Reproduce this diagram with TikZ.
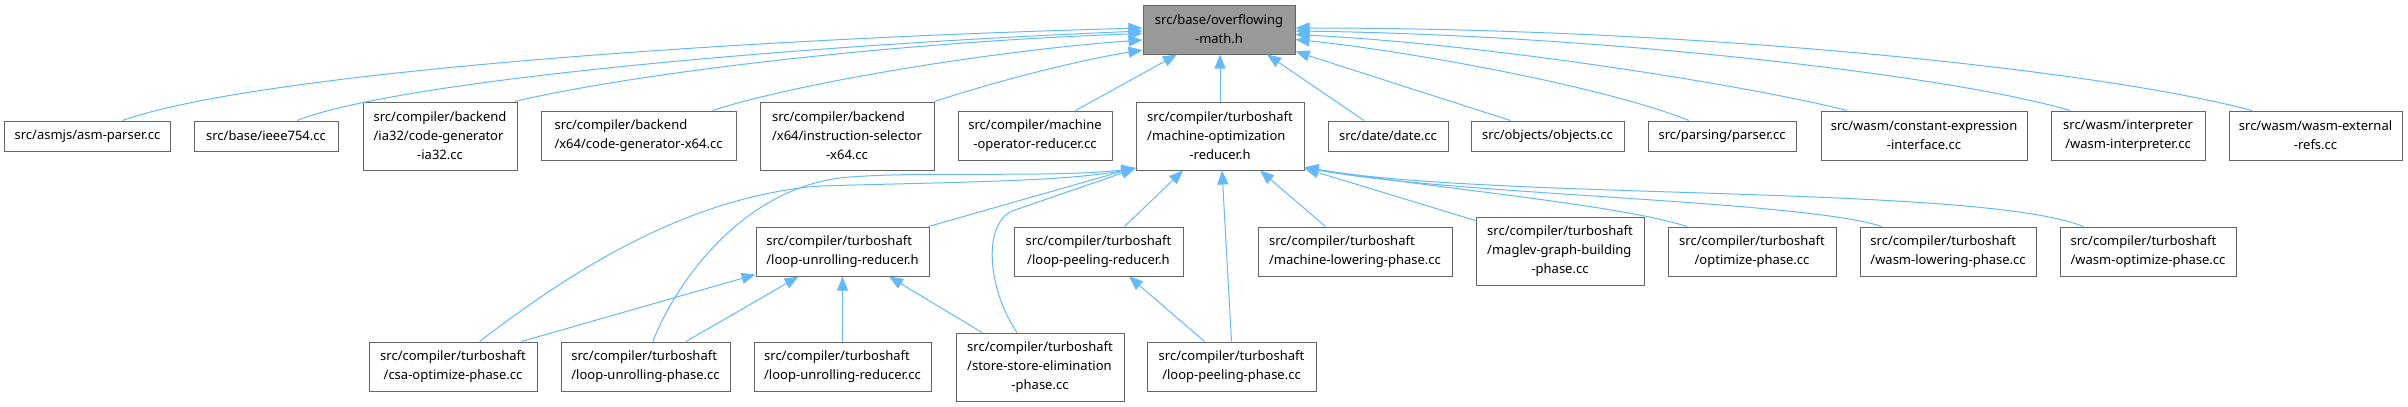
\documentclass[tikz,border=0pt]{standalone}
\usepackage{fontspec}
\setmainfont{Noto Sans}
\usetikzlibrary{arrows.meta,calc}
\definecolor{edgeblue}{HTML}{63B8FF}
\definecolor{boxgray}{HTML}{666666}
\definecolor{rootfill}{HTML}{999999}
\newcommand\lastln[1]{\hfill#1\hfill\hbox{}}
\begin{document}
\begin{tikzpicture}[x=1bp,y=-1bp,
  box/.style={draw=boxgray, line width=1bp, fill=white, inner sep=0pt, align=left,
    font=\fontsize{13bp}{19bp}\selectfont},
  rootbox/.style={box, fill=rootfill},
  dep/.style={draw=edgeblue, line width=1bp, -{Triangle[length=14bp,width=11bp]}},
]
\useasboundingbox (0,0) rectangle (2408,406);

% root
\node[rootbox, minimum width=152bp, minimum height=49bp] (OM) at (1219,29.5) {src/base/overflowing\\\lastln{-math.h}};

% row 2
\node[box, minimum width=165bp, minimum height=30bp] (asm) at (87.5,136) {src/asmjs/asm-parser.cc};
\node[box, minimum width=144bp, minimum height=30bp] (ieee) at (266,136) {src/base/ieee754.cc};
\node[box, minimum width=154bp, minimum height=68bp] (ia32) at (440,136) {src/compiler/backend\\/ia32/code-generator\\\lastln{-ia32.cc}};
\node[box, minimum width=195bp, minimum height=49bp] (x64cg) at (638.5,135.5) {src/compiler/backend\\\lastln{/x64/code-generator-x64.cc}};
\node[box, minimum width=174bp, minimum height=68bp] (isel) at (847,136) {src/compiler/backend\\/x64/instruction-selector\\\lastln{-x64.cc}};
\node[box, minimum width=154bp, minimum height=49bp] (mocc) at (1035,135.5) {src/compiler/machine\\\lastln{-operator-reducer.cc}};
\node[box, minimum width=168bp, minimum height=68bp] (MOR) at (1220,136) {src/compiler/turboshaft\\/machine-optimization\\\lastln{-reducer.h}};
\node[box, minimum width=120bp, minimum height=30bp] (date) at (1388,136) {src/date/date.cc};
\node[box, minimum width=153bp, minimum height=30bp] (objects) at (1547.5,136) {src/objects/objects.cc};
\node[box, minimum width=148bp, minimum height=30bp] (parser) at (1722,136) {src/parsing/parser.cc};
\node[box, minimum width=206bp, minimum height=49bp] (constexpr) at (1924,135.5) {src/wasm/constant-expression\\\lastln{-interface.cc}};
\node[box, minimum width=154bp, minimum height=49bp] (interp) at (2128,135.5) {src/wasm/interpreter\\\lastln{/wasm-interpreter.cc}};
\node[box, minimum width=173bp, minimum height=49bp] (extrefs) at (2315.5,135.5) {src/wasm/wasm-external\\\lastln{-refs.cc}};

% row 3
\node[box, minimum width=173bp, minimum height=49bp] (LUR) at (842.5,251.5) {src/compiler/turboshaft\\\lastln{/loop-unrolling-reducer.h}};
\node[box, minimum width=169bp, minimum height=49bp] (LPR) at (1098.5,251.5) {src/compiler/turboshaft\\\lastln{/loop-peeling-reducer.h}};
\node[box, minimum width=194bp, minimum height=49bp] (MLP) at (1355,251.5) {src/compiler/turboshaft\\\lastln{/machine-lowering-phase.cc}};
\node[box, minimum width=168bp, minimum height=68bp] (maglev) at (1560,251) {src/compiler/turboshaft\\/maglev-graph-building\\\lastln{-phase.cc}};
\node[box, minimum width=168bp, minimum height=49bp] (opt) at (1752,251.5) {src/compiler/turboshaft\\\lastln{/optimize-phase.cc}};
\node[box, minimum width=176bp, minimum height=49bp] (wlow) at (1948,251.5) {src/compiler/turboshaft\\\lastln{/wasm-lowering-phase.cc}};
\node[box, minimum width=176bp, minimum height=49bp] (wopt) at (2148,251.5) {src/compiler/turboshaft\\\lastln{/wasm-optimize-phase.cc}};

% row 4
\node[box, minimum width=168bp, minimum height=49bp] (csa) at (453,366.5) {src/compiler/turboshaft\\\lastln{/csa-optimize-phase.cc}};
\node[box, minimum width=169bp, minimum height=49bp] (lup) at (645.5,366.5) {src/compiler/turboshaft\\\lastln{/loop-unrolling-phase.cc}};
\node[box, minimum width=177bp, minimum height=49bp] (lurcc) at (842.5,366.5) {src/compiler/turboshaft\\\lastln{/loop-unrolling-reducer.cc}};
\node[box, minimum width=168bp, minimum height=68bp] (sse) at (1040,367) {src/compiler/turboshaft\\/store-store-elimination\\\lastln{-phase.cc}};
\node[box, minimum width=169bp, minimum height=49bp] (lpp) at (1231.5,366.5) {src/compiler/turboshaft\\\lastln{/loop-peeling-phase.cc}};

% edges into root
\draw[dep] ($(asm.north)+(35,0)$) .. controls (250,75) and (700,40) .. ($(OM.west)+(0,-1.5)$);
\draw[dep] ($(ieee.north)+(31,0)$) .. controls (400,80) and (800,45) .. ($(OM.west)+(0,1.5)$);
\draw[dep] ($(ia32.north east)+(-3,0)$) .. controls (640,72) and (900,42) .. ($(OM.west)+(0,4)$);
\draw[dep] ($(x64cg.north)+(74,0)$) .. controls (800,82) and (1000,50) .. ($(OM.west)+(0,10.5)$);
\draw[dep] (isel.north east) .. controls (1000,80) and (1080,60) .. ($(OM.west)+(0,20.5)$);
\draw[dep] ($(mocc.north)+(40.5,0)$) -- ($(OM.south)+(-42,0)$);
\draw[dep] (MOR.north) -- (MOR.north |- OM.south);
\draw[dep] ($(date.north)+(-24,0)$) -- ($(OM.south)+(48,0)$);
\draw[dep] ($(objects.north)+(-37,0)$) -- ($(OM.east)+(0,22)$);
\draw[dep] ($(parser.north)+(-33,0)$) .. controls (1600,85) and (1400,50) .. ($(OM.east)+(0,10)$);
\draw[dep] ($(constexpr.north)+(-77,0)$) .. controls (1760,88) and (1500,45) .. ($(OM.east)+(0,5)$);
\draw[dep] ($(interp.north)+(-58,0)$) .. controls (1950,75) and (1600,35) .. ($(OM.east)+(0,1.5)$);
\draw[dep] ($(extrefs.north)+(-63.5,0)$) .. controls (2100,70) and (1700,28) .. ($(OM.east)+(0,-1.5)$);

% edges into machine-optimization-reducer.h
\draw[dep] ($(LUR.north east)+(-1,0)$) -- ($(MOR.south west)+(0,-3)$);
\draw[dep] ($(csa.north)+(26.6,0)$) .. controls (560,280) and (680,197) .. (820,186) .. controls (950,182) and (1060,182) .. ($(MOR.south west)+(0,-2)$);
\draw[dep] ($(lup.north)+(7.5,0)$) .. controls (672,290) and (740,185) .. (850,177) .. controls (930,171) and (1050,178) .. ($(MOR.south west)+(0,-2)$);
\draw[dep] ($(sse.north)+(-23,0)$) .. controls (988,290) and (982,225) .. (1012,211) -- ($(MOR.south west)+(0,-2)$);
\draw[dep] ($(LPR.north)+(26,0)$) -- ($(MOR.south)+(-37,0)$);
\draw[dep] (lpp.north) -- ($(MOR.south)+(2,0)$);
\draw[dep] ($(MLP.north)+(-29.5,0)$) -- ($(MOR.south)+(40,0)$);
\draw[dep] ($(maglev.north west)+(0,4)$) -- ($(MOR.south east)+(0,-2)$);
\draw[dep] ($(opt.north)+(-65,0)$) .. controls (1620,205) and (1450,190) .. ($(MOR.south east)+(0,-3)$);
\draw[dep] ($(wlow.north)+(-66,0)$) .. controls (1800,200) and (1450,195) .. ($(MOR.south east)+(0,-3)$);
\draw[dep] ($(wopt.north)+(-64.5,0)$) .. controls (1980,185) and (1500,200) .. ($(MOR.south east)+(0,-3)$);

% edges into loop-unrolling-reducer.h
\draw[dep] ($(csa.north)+(68.4,0)$) -- ($(LUR.south west)+(0,-2)$);
\draw[dep] ($(lup.north)+(40.5,0)$) -- ($(LUR.south)+(-44,0)$);
\draw[dep] (lurcc.north) -- (LUR.south);
\draw[dep] ($(sse.north)+(-58,0)$) -- ($(LUR.south)+(46.5,0)$);

% edge into loop-peeling-reducer.h
\draw[dep] ($(lpp.north)+(-27,0)$) -- ($(LPR.south)+(30.5,0)$);
\end{tikzpicture}
\end{document}
